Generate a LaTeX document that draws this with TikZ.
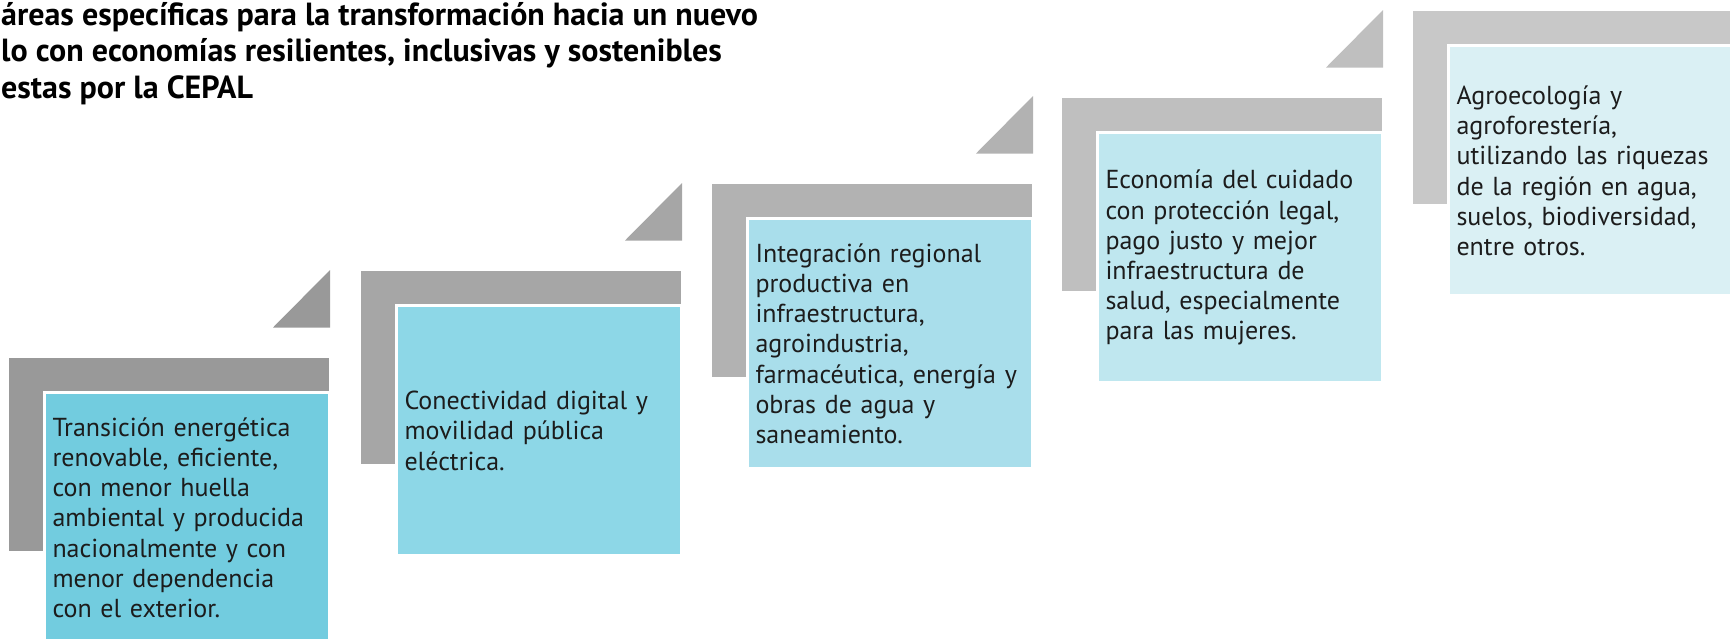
\documentclass[tikz,border=0pt]{standalone}
\usepackage{fontspec}
\setmainfont{PT Sans}
\usetikzlibrary{positioning, calc}

\definecolor{back1}{HTML}{999999}
\definecolor{back2}{HTML}{A6A6A6}
\definecolor{back3}{HTML}{B2B2B2}
\definecolor{back4}{HTML}{BFBFBF}
\definecolor{back5}{HTML}{C8C8C8}
\definecolor{area1}{HTML}{72CCDF}
\definecolor{area2}{HTML}{8DD7E7}
\definecolor{area3}{HTML}{A9DEEB}
\definecolor{area4}{HTML}{BFE7EF}
\definecolor{area5}{HTML}{DAF0F4}
\definecolor{ink}{HTML}{1C1C1C}

\begin{document}
\begin{tikzpicture}[
  x=1pt, y=-1pt,
  every node/.style={inner sep=0pt},
  areabox/.style={draw=white, line width=3pt, anchor=north west,
    minimum width=285pt, minimum height=250pt, inner xsep=8.5pt,
    text width=268pt, align=left, text=ink,
    font=\fontsize{26}{30.2}\selectfont},
  titletext/.style={anchor=north west, align=left, text=black,
    font=\bfseries\fontsize{32}{36.7}\selectfont}
]
\useasboundingbox (0,0) rectangle (1730,638);

% esquinas de cada escalon
\coordinate (g1) at (9,358);
\coordinate (g2) at (361,271);
\coordinate (g3) at (712,184);
\coordinate (g4) at (1062,98);
\coordinate (g5) at (1413,11);

\fill[back1] (g1) rectangle ++(320,193);
\fill[back1] ($(g1)+(264,-30.5)$) -- ++(57,0) -- ++(0,-57.5) -- cycle;
\node[areabox, fill=area1] (a1) at ($(g1)+(33.5,33.2)$)
  {Transición energética\\ renovable, eficiente,\\ con menor huella\\
   ambiental y producida\\ nacionalmente y con\\ menor dependencia\\
   con el exterior.};

\fill[back2] (g2) rectangle ++(320,193);
\fill[back2] ($(g2)+(264,-30.5)$) -- ++(57,0) -- ++(0,-57.5) -- cycle;
\node[areabox, fill=area2] (a2) at ($(g2)+(33.5,33.2)$)
  {Conectividad digital y\\ movilidad pública\\ eléctrica.};

\fill[back3] (g3) rectangle ++(320,193);
\fill[back3] ($(g3)+(264,-30.5)$) -- ++(57,0) -- ++(0,-57.5) -- cycle;
\node[areabox, fill=area3] (a3) at ($(g3)+(33.5,33.2)$)
  {Integración regional\\ productiva en\\ infraestructura,\\ agroindustria,\\
   farmacéutica, energía y\\ obras de agua y\\ saneamiento.};

\fill[back4] (g4) rectangle ++(320,193);
\fill[back4] ($(g4)+(264,-30.5)$) -- ++(57,0) -- ++(0,-57.5) -- cycle;
\node[areabox, fill=area4] (a4) at ($(g4)+(33.5,33.2)$)
  {Economía del cuidado\\ con protección legal,\\ pago justo y mejor\\
   infraestructura de\\ salud, especialmente\\ para las mujeres.};

\fill[back5] (g5) rectangle ++(320,193);
\node[areabox, fill=area5] (a5) at ($(g5)+(33.5,33.2)$)
  {Agroecología y\\ agroforestería,\\ utilizando las riquezas\\
   de la región en agua,\\ suelos, biodiversidad,\\ entre otros.};

\node[titletext] (title) at (1,2)
  {áreas específicas para la transformación hacia un nuevo\\
   lo con economías resilientes, inclusivas y sostenibles\\
   estas por la CEPAL};

\end{tikzpicture}
\end{document}
